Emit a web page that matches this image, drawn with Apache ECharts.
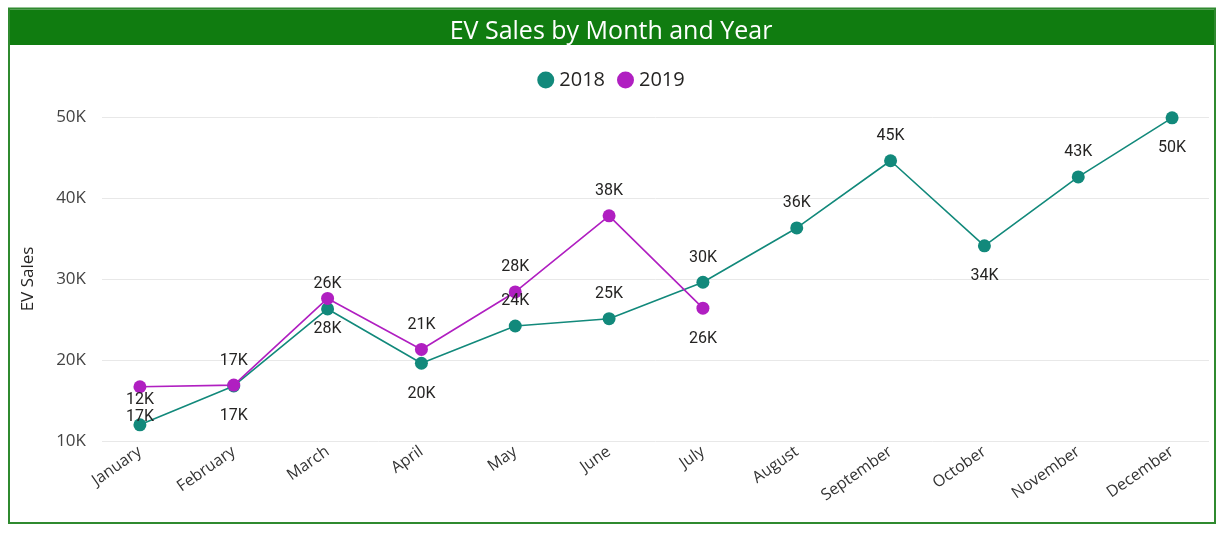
<!DOCTYPE html>
<html>
<head>
<meta charset="utf-8">
<script src="https://cdn.jsdelivr.net/npm/echarts@6/dist/echarts.min.js"></script>
<style>
html,body{margin:0;padding:0;background:#fff;}
#chart{width:1222px;height:533px;}
</style>
</head>
<body>
<div id="chart"></div>
<script>
// ---- data ----
const months = ['January','February','March','April','May','June','July','August','September','October','November','December'];
const sales2018 = [12000, 16800, 26300, 19600, 24200, 25100, 29600, 36300, 44600, 34100, 42600, 49900];
const sales2019 = [16700, 16900, 27600, 21300, 28400, 37800, 26400];
const yTicks = [10000, 20000, 30000, 40000, 50000];

// ---- label placement (style) ----
const side2018 = ['top','bottom','top','bottom','top','top','top','top','top','bottom','top','bottom'];
const side2019 = ['bottom','top','bottom','top','top','top','bottom'];

const fmtK = v => Math.round(v / 1000) + 'K';
const labelStyle = {show: true, fontFamily: 'Roboto', fontSize: 16, color: '#252423', formatter: p => fmtK(p.value)};
function build(values, sides){
  return values.map((v, i) => ({value: v, label: {position: sides[i], distance: sides[i] === 'top' ? 10 : 16}}));
}

const chart = echarts.init(document.getElementById('chart'));
const yMin = yTicks[0], yMax = yTicks[yTicks.length - 1], yStep = yTicks[1] - yTicks[0];
chart.setOption({
  animation: false,
  backgroundColor: '#fff',
  title: {
    text: 'EV Sales by Month and Year', left: 'center', top: 14,
    textStyle: {color: '#fff', fontSize: 25, fontWeight: 'normal', fontFamily: 'Open Sans'}
  },
  legend: {
    top: 65, left: 'center', icon: 'circle', itemWidth: 17, itemHeight: 17, itemGap: 12,
    textStyle: {fontSize: 20, color: '#252423', fontFamily: 'Open Sans'},
    data: ['2018', '2019']
  },
  graphic: [
    {type: 'rect', z: -10, shape: {x: 9, y: 8.5, width: 1206, height: 514.5}, style: {fill: 'none', stroke: '#2F8A2F', lineWidth: 2}},
    {type: 'rect', z: -9, shape: {x: 10, y: 9.5, width: 1204, height: 35.5}, style: {fill: '#107C10'}}
  ],
  grid: [
    {left: 102, right: 13, top: 117, bottom: 92},
    {left: 93, right: 3, top: 117, bottom: 92}
  ],
  xAxis: [
    {type: 'value', gridIndex: 0, show: false},
    {type: 'category', gridIndex: 1, data: months, boundaryGap: true,
     axisLine: {show: false}, axisTick: {show: false},
     axisLabel: {rotate: 35, margin: 9, fontSize: 16, color: '#333', fontFamily: 'Open Sans', interval: 0}}
  ],
  yAxis: [
    {type: 'value', gridIndex: 0, min: yMin, max: yMax, interval: yStep,
     name: 'EV Sales', nameLocation: 'middle', nameGap: 65,
     nameTextStyle: {fontSize: 17, color: '#252423', fontFamily: 'Open Sans'},
     axisLine: {show: false}, axisTick: {show: false},
     axisLabel: {formatter: v => fmtK(v), fontSize: 17, color: '#444', margin: 16, fontFamily: 'Open Sans'},
     splitLine: {lineStyle: {color: '#e8e8e8', width: 1}}},
    {type: 'value', gridIndex: 1, min: yMin, max: yMax, interval: yStep, show: false, splitLine: {show: false}}
  ],
  series: [
    {name: '2018', type: 'line', xAxisIndex: 1, yAxisIndex: 1, data: build(sales2018, side2018),
     symbol: 'circle', symbolSize: 13, color: '#12897B', lineStyle: {width: 1.6},
     label: labelStyle},
    {name: '2019', type: 'line', xAxisIndex: 1, yAxisIndex: 1, data: build(sales2019, side2019),
     symbol: 'circle', symbolSize: 13, color: '#B01FC1', lineStyle: {width: 1.6},
     label: labelStyle}
  ]
});
</script>
</body>
</html>
